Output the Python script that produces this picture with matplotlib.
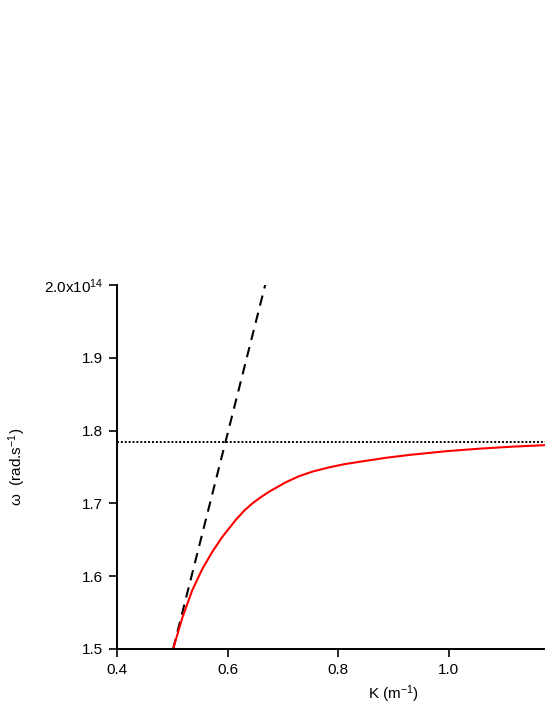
"""
Courbe de dispersion plasmon de surface : omega(K), droite de lumière et asymptote.
Sortie : out.png
"""
import matplotlib
matplotlib.use("Agg")
import matplotlib.pyplot as plt

# Courbe rouge (plasmon), omega en 1e14 rad/s
K_SP = [0.5015, 0.518, 0.536, 0.554, 0.572, 0.590, 0.6147, 0.630, 0.6448,
        0.660, 0.675, 0.7053, 0.7295, 0.755, 0.7838, 0.812, 0.8443, 0.885,
        0.929, 0.9955, 1.056, 1.116, 1.174, 1.25, 1.40]
W_SP = [1.500, 1.5425, 1.5805, 1.6095, 1.633, 1.6535, 1.6772, 1.690, 1.700,
        1.7085, 1.716, 1.729, 1.7375, 1.744, 1.7495, 1.7540, 1.7578, 1.7625,
        1.7666, 1.7717, 1.7752, 1.778, 1.780, 1.7815, 1.7835]

# Droite de lumière (tirets)
K_LIGHT = [0.5015, 0.668]
W_LIGHT = [1.5, 2.0]

# Asymptote omega_sp (pointillés)
W_ASYMP = 1.7847
K_ASYMP = [0.4, 1.40]

X_TICKS = [0.4, 0.6, 0.8, 1.0]
X_LABELS = ["0.4", "0.6", "0.8", "1.0"]
Y_TICKS = [1.5, 1.6, 1.7, 1.8, 1.9, 2.0]
Y_LABELS = ["1.5", "1.6", "1.7", "1.8", "1.9", "2.0x10$^{14}$"]

plt.rcParams["font.family"] = ["Liberation Sans", "DejaVu Sans"]
plt.rcParams["mathtext.default"] = "regular"

fig = plt.figure(figsize=(5.45, 7.05), dpi=100)
# axe X prolongé au-delà du bord droit (coupé dans l'original)
ax = fig.add_axes([117 / 545, 1 - 649 / 705, (671 - 117) / 545, (649 - 285) / 705])

ax.plot(K_ASYMP, [W_ASYMP, W_ASYMP], color="black", lw=1.4, ls=(0, (1, 1)))
ax.plot(K_LIGHT, W_LIGHT, color="black", lw=1.5, ls=(0, (5, 3.5)))
ax.plot(K_SP, W_SP, color="red", lw=1.5)

ax.set_xlim(0.4, 1.402)
ax.set_ylim(1.5, 2.0)
ax.set_xticks(X_TICKS)
ax.set_xticklabels(X_LABELS)
ax.set_yticks(Y_TICKS)
ax.set_yticklabels(Y_LABELS)
ax.tick_params(direction="out", length=6, width=1.2, labelsize=11, pad=4)

for s in ["top", "right"]:
    ax.spines[s].set_visible(False)
for s in ["left", "bottom"]:
    ax.spines[s].set_linewidth(1.4)

ax.set_xlabel("K (m$^{-1}$)", fontsize=11, labelpad=5)
ax.set_ylabel("ω  (rad.s$^{-1}$)", fontsize=11, labelpad=11)

fig.savefig("out.png", dpi=100)
